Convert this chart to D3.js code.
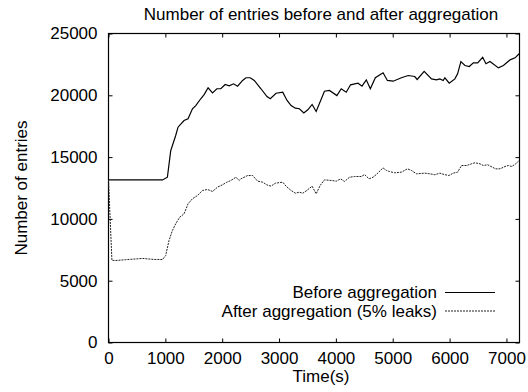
<!DOCTYPE html>
<html>
<head>
<meta charset="utf-8">
<script src="https://cdn.jsdelivr.net/npm/d3@7"></script>
<style>
  body { margin: 0; background: #fff; }
  svg { display: block; }
</style>
</head>
<body>
<div class="lineChart"></div>
<script>
let w = 528;
let h = 392;

// [time (s), number of entries]
const beforeAgg = [
  [0,13150],[950,13150],[1036,13370],[1094,15500],[1182,16750],[1223,17420],[1329,17960],
  [1399,18100],[1477,18910],[1535,19170],[1623,19720],[1682,20060],[1752,20610],[1830,20200],
  [1906,20530],[1976,20530],[2052,20870],[2123,20770],[2200,20930],[2271,20740],[2359,21200],
  [2418,21420],[2493,21420],[2564,21200],[2682,20530],[2788,19900],[2846,19720],[2947,20170],
  [3065,20250],[3141,19580],[3212,19170],[3287,18960],[3358,18910],[3436,18580],[3506,18830],
  [3582,19260],[3653,18690],[3799,20330],[3887,20390],[4018,19980],[4094,20530],[4182,20250],
  [4258,20850],[4389,20980],[4459,20740],[4535,21250],[4606,20530],[4694,21420],[4830,21820],
  [4906,21200],[5006,21140],[5153,21420],[5271,21600],[5387,21520],[5430,21280],[5553,21930],
  [5682,21330],[5770,21250],[5828,21330],[5888,21200],[5917,21420],[5994,20980],[6093,21330],
  [6141,21740],[6199,22730],[6270,22410],[6347,22330],[6418,22630],[6494,22630],[6582,23080],
  [6640,22550],[6711,22730],[6859,22220],[6947,22410],[7064,22870],[7152,23030],[7223,23360]
];

const afterAgg = [
  [0,13150],[60,6650],[124,6630],[300,6700],[450,6750],[600,6800],[800,6720],[950,6715],
  [1006,7040],[1064,8250],[1124,9060],[1182,9600],[1253,10140],[1329,10410],[1399,11220],
  [1477,11630],[1565,11890],[1653,12300],[1742,12380],[1830,12220],[1918,12570],[2006,12760],
  [2082,12970],[2153,13110],[2241,13370],[2299,13110],[2329,13240],[2448,13510],[2536,13510],
  [2624,13050],[2712,12970],[2783,12760],[2859,12650],[2935,12890],[3065,12970],[3123,12650],
  [3212,12300],[3287,12080],[3358,12160],[3418,12080],[3489,12300],[3582,12650],[3653,12030],
  [3723,12700],[3799,13160],[3917,13110],[4006,13050],[4082,13240],[4152,13030],[4240,13370],
  [4329,13430],[4447,13430],[4505,13590],[4583,13240],[4653,13370],[4711,13590],[4830,14130],
  [4888,13920],[4946,13830],[5034,13730],[5153,13780],[5259,14050],[5329,13920],[5417,13650],
  [5564,13700],[5652,13650],[5740,13570],[5828,13700],[5906,13590],[5987,13510],[6065,13700],
  [6141,13780],[6211,14320],[6300,14320],[6388,14460],[6446,14540],[6535,14460],[6594,14320],
  [6670,14380],[6728,14240],[6811,14050],[6887,14050],[6976,14240],[7035,14320],[7094,14240],
  [7164,14460],[7212,14670]
];

const xTicks = [0, 1000, 2000, 3000, 4000, 5000, 6000, 7000];
const yTicks = [0, 5000, 10000, 15000, 20000, 25000];
const seriesNames = ["Before aggregation", "After aggregation (5% leaks)"];

const plotL = 108.5, plotR = 519.5, plotT = 33.5, plotB = 342.5;
const font = "'Liberation Sans', Arial, Helvetica, sans-serif";

const x = d3.scaleLinear().domain([0, 7230]).range([plotL, plotR]);
const y = d3.scaleLinear().domain([0, 25000]).range([plotB, plotT]);

let svg = d3.select('.lineChart')
  .append('svg')
  .attr('width', w)
  .attr('height', h)
  .style('font-family', font);

// axes, ticks point inward and are mirrored (gnuplot style)
svg.append('g')
  .attr('transform', `translate(0,${plotB})`)
  .call(d3.axisBottom(x).tickValues(xTicks).tickSizeInner(-4).tickSizeOuter(0).tickPadding(9).tickFormat(d3.format('d')));
svg.append('g')
  .attr('transform', `translate(0,${plotT})`)
  .call(d3.axisTop(x).tickValues(xTicks).tickSizeInner(-4).tickSizeOuter(0).tickFormat(''));
svg.append('g')
  .attr('transform', `translate(${plotL},0)`)
  .call(d3.axisLeft(y).tickValues(yTicks).tickSizeInner(-4).tickSizeOuter(0).tickPadding(11).tickFormat(d3.format('d')));
svg.append('g')
  .attr('transform', `translate(${plotR},0)`)
  .call(d3.axisRight(y).tickValues(yTicks).tickSizeInner(-4).tickSizeOuter(0).tickFormat(''));

svg.selectAll('.domain').remove();
svg.selectAll('.tick line').attr('stroke', '#000');
svg.selectAll('.tick text')
  .attr('font-family', font)
  .attr('font-size', '17px')
  .attr('fill', '#000');

svg.append('rect')
  .attr('x', plotL)
  .attr('y', plotT)
  .attr('width', plotR - plotL)
  .attr('height', plotB - plotT)
  .attr('fill', 'none')
  .attr('stroke', '#000')
  .attr('stroke-width', 1.2);

const lineFun = d3.line()
  .x(function(d){ return x(d[0]); })
  .y(function(d){ return y(d[1]); })
  .curve(d3.curveLinear);

svg.append('path')
  .attr('d', lineFun(beforeAgg))
  .attr('stroke', '#000')
  .attr('stroke-width', 1.2)
  .attr('fill', 'none');

svg.append('path')
  .attr('d', lineFun(afterAgg))
  .attr('stroke', '#222')
  .attr('stroke-width', 1)
  .attr('stroke-dasharray', '2,1')
  .attr('fill', 'none');

// titles
svg.append('text')
  .text('Number of entries before and after aggregation')
  .attr('x', 321)
  .attr('y', 20)
  .attr('text-anchor', 'middle')
  .attr('font-size', '17px');

svg.append('text')
  .text('Time(s)')
  .attr('x', 321)
  .attr('y', 382)
  .attr('text-anchor', 'middle')
  .attr('font-size', '17px');

svg.append('text')
  .text('Number of entries')
  .attr('transform', 'translate(27,' + (plotT + plotB) / 2 + ') rotate(-90)')
  .attr('text-anchor', 'middle')
  .attr('font-size', '17px');

// legend
const legend = svg.selectAll('.legend')
  .data(seriesNames)
  .enter()
  .append('g')
  .attr('transform', function(d, i){ return `translate(0,${292.5 + i * 18.5})`; });

legend.append('text')
  .text(function(d){ return d; })
  .attr('x', 437)
  .attr('dy', '0.35em')
  .attr('text-anchor', 'end')
  .attr('font-size', '17px');

legend.append('line')
  .attr('x1', 445)
  .attr('x2', 495)
  .attr('stroke', function(d, i){ return i === 0 ? '#000' : '#222'; })
  .attr('stroke-width', function(d, i){ return i === 0 ? 1.2 : 1; })
  .attr('stroke-dasharray', function(d, i){ return i === 0 ? null : '2,1'; });
</script>
</body>
</html>
